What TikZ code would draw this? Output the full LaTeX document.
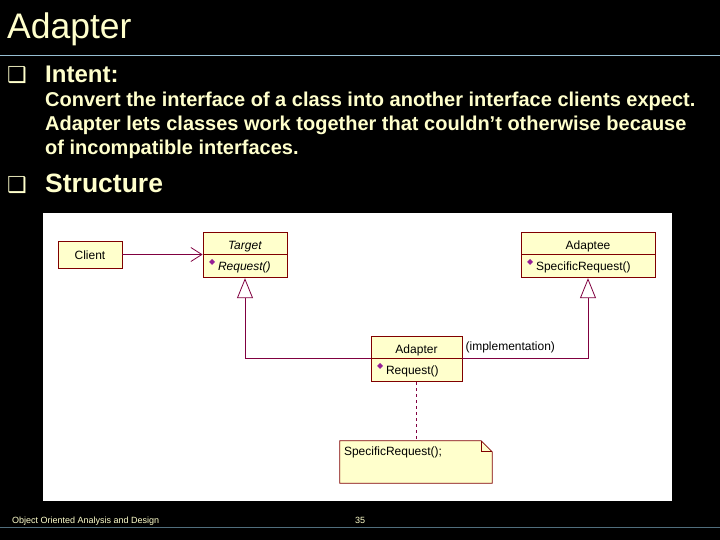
\documentclass[tikz,border=0pt]{standalone}
\usepackage{fontspec}
\setmainfont{Liberation Sans}
\newfontfamily\symfont{DejaVu Sans}
\usetikzlibrary{arrows.meta, positioning}

\definecolor{slidetext}{RGB}{255,255,204}
\definecolor{rulecolor}{RGB}{150,190,210}
\definecolor{footrule}{RGB}{80,110,125}
\definecolor{classfill}{RGB}{255,255,204}
\definecolor{classborder}{RGB}{128,0,0}
\definecolor{umlline}{RGB}{128,0,64}
\definecolor{opmark}{RGB}{150,30,150}

\newcommand{\opicon}{\makebox[10pt][l]{\hspace*{1pt}\raisebox{6pt}{\symfont\fontsize{8}{8}\selectfont\textcolor{opmark}{◆}}}}
\newcommand{\boxbullet}{{\symfont\fontsize{22}{22}\selectfont ❑}}

\tikzset{
  classname/.style={draw=classborder, fill=classfill, line width=0.8pt,
    minimum height=22pt, inner sep=0pt, text height=13pt, text depth=0pt,
    font=\fontsize{12}{14}\selectfont},
  classops/.style={draw=classborder, fill=classfill, line width=0.8pt,
    minimum height=23pt, inner xsep=5pt, inner ysep=0pt, align=left,
    font=\fontsize{12}{14}\selectfont},
  assoc/.style={umlline, line width=0.8pt, -{Straight Barb[length=11pt, width=14pt]}},
  generalize/.style={umlline, line width=0.8pt, -{Triangle[open, length=20pt, width=16pt, fill=white]}},
  slidetxt/.style={slidetext, anchor=base west, inner sep=0pt}
}

\begin{document}
\begin{tikzpicture}[x=1pt, y=-1pt]
  \useasboundingbox (0,0) rectangle (720,540);
  \fill[black] (0,0) rectangle (720,540);
  % Slide title and rules
  \node[slidetxt, font=\fontsize{35.5}{40}\selectfont] (title) at (7,39) {Adapter};
  \draw[rulecolor, line width=0.8pt] (0,55) -- (720,55);
  \draw[footrule, line width=0.8pt] (0,527) -- (720,527);
  % Intent
  \node[slidetxt] (bulletone) at (7,83) {\boxbullet};
  \node[slidetxt, font=\fontsize{24}{28}\bfseries] (intent) at (45,83) {Intent:};
  \foreach \txt [count=\i] in {Convert the interface of a class into another interface clients expect.,
      Adapter lets classes work together that couldn't otherwise because,
      of incompatible interfaces.}
    \node[slidetxt, font=\fontsize{20}{24}\bfseries] (intentline\i) at (45,{83+24*\i}) {\txt};
  % Structure
  \node[slidetxt] (bullettwo) at (7,193) {\boxbullet};
  \node[slidetxt, font=\fontsize{26.5}{30}\bfseries] (structure) at (45,193) {Structure};
  % Diagram panel
  \fill[white] (43,213) rectangle (672,501);
  % Classes
  \node[classname, minimum width=64pt, minimum height=27pt, text height=9pt] (client) at (90,254.5) {Client};
  \node[classname, minimum width=84pt] (target) at (245,243) {\textit{Target}};
  \node[classops, text width=74pt, below=0pt of target] (targetops) {\opicon\textit{Request()}};
  \node[classname, minimum width=134pt] (adaptee) at (588,243) {Adaptee};
  \node[classops, text width=124pt, below=0pt of adaptee] (adapteeops) {\opicon SpecificRequest()};
  \node[classname, minimum width=91pt] (adapter) at (416.5,347) {Adapter};
  \node[classops, text width=81pt, below=0pt of adapter] (adapterops) {\opicon Request()};
  % Relations
  \draw[assoc] (client.east) -- (client.east -| target.south west);
  \draw[generalize] (adapter.south west) -| (targetops.south);
  \draw[generalize] (adapter.south east) -| (adapteeops.south);
  \node[right=3pt of adapter.east, inner sep=0pt, font=\fontsize{12}{14}\selectfont] (impl) {(implementation)};
  % Note
  \node[minimum width=152pt, minimum height=42pt, inner sep=0pt] (note) at (416,462) {};
  \filldraw[fill=classfill, draw=classborder, line width=0.8pt]
    (note.south west) -- (note.north west) -- ([xshift=-11pt]note.north east)
    -- ([yshift=-11pt]note.north east) -- (note.south east) -- cycle;
  \draw[classborder, line width=0.8pt] ([xshift=-11pt]note.north east) |- ([yshift=-11pt]note.north east);
  \node[anchor=north west, inner sep=0pt, font=\fontsize{12}{14}\selectfont] (notetext)
    at ([shift={(4pt,-6pt)}]note.north west) {SpecificRequest();};
  \draw[umlline, line width=0.8pt, dashed] (adapterops.south) -- (note.north -| adapterops.south);
  % Footer
  \node[slidetxt, font=\fontsize{9}{10}\selectfont] (course) at (12,523) {Object Oriented Analysis and Design};
  \node[slidetxt, font=\fontsize{9}{10}\selectfont] (page) at (355,523) {35};
\end{tikzpicture}
\end{document}
